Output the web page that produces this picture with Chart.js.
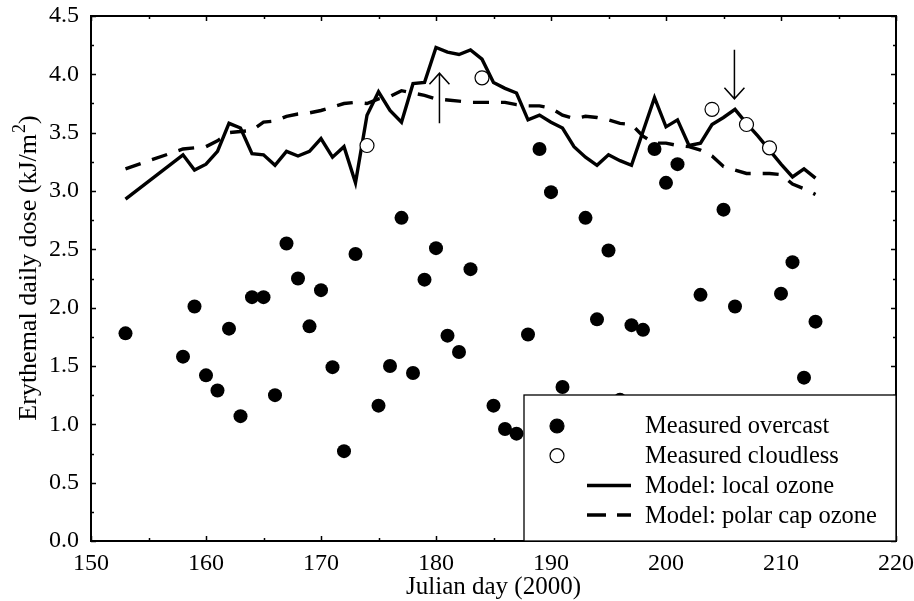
<!DOCTYPE html>
<html>
<head>
<meta charset="utf-8">
<script src="https://cdn.jsdelivr.net/npm/chart.js@4/dist/chart.umd.min.js"></script>
<style>
  html, body { margin: 0; padding: 0; background: #fff; }
  #wrap { width: 914px; height: 601px; position: relative; }
</style>
</head>
<body>
<div id="wrap"><canvas id="c" width="914" height="601"></canvas></div>
<script>
// ---- Data ----
const overcastDays = [153,158,159,160,161,162,163,164,165,166,167,168,169,170,171,172,173,175,176,177,178,179,180,181,182,183,185,186,187,188,189,190,191,193,194,195,196,197,198,199,200,201,203,205,206,210,211,212,213];
const overcastDose = [1.78,1.58,2.01,1.42,1.29,1.82,1.07,2.09,2.09,1.25,2.55,2.25,1.84,2.15,1.49,0.77,2.46,1.16,1.50,2.77,1.44,2.24,2.51,1.76,1.62,2.33,1.16,0.96,0.92,1.77,3.36,2.99,1.32,2.77,1.90,2.49,1.21,1.85,1.81,3.36,3.07,3.23,2.11,2.84,2.01,2.12,2.39,1.40,1.88];

const cloudlessDays = [174,184,204,207,209];
const cloudlessDose = [3.39,3.97,3.70,3.57,3.37];

const modelDays = [153,158,159,160,161,162,163,164,165,166,167,168,169,170,171,172,173,174,175,176,177,178,179,180,181,182,183,184,185,186,187,188,189,190,191,192,193,194,195,196,197,198,199,200,201,202,203,204,205,206,207,208,209,210,211,212,213];
const localOzone = [2.93,3.31,3.18,3.23,3.34,3.58,3.54,3.32,3.31,3.22,3.34,3.30,3.34,3.45,3.29,3.38,3.07,3.65,3.85,3.69,3.59,3.92,3.93,4.23,4.19,4.17,4.21,4.13,3.93,3.88,3.84,3.61,3.65,3.59,3.54,3.38,3.29,3.22,3.31,3.26,3.22,3.51,3.80,3.55,3.61,3.39,3.41,3.57,3.63,3.70,3.58,3.47,3.35,3.23,3.12,3.19,3.11];
const polarCapOzone = [3.19,3.36,3.37,3.38,3.43,3.50,3.51,3.52,3.59,3.60,3.64,3.66,3.67,3.69,3.72,3.75,3.76,3.75,3.79,3.81,3.86,3.84,3.82,3.79,3.78,3.77,3.76,3.76,3.76,3.76,3.74,3.73,3.73,3.71,3.65,3.62,3.64,3.63,3.61,3.58,3.57,3.47,3.41,3.41,3.39,3.38,3.35,3.30,3.21,3.18,3.15,3.15,3.15,3.14,3.06,3.02,2.97];

// arrows: [day, fromValue, toValue]
const arrowUp = [180.3, 3.58, 4.01];
const arrowDown = [205.95, 4.21, 3.79];

const xTickLabels = [150,160,170,180,190,200,210,220];
const yTickLabels = ['0.0','0.5','1.0','1.5','2.0','2.5','3.0','3.5','4.0','4.5'];

const seriesLabels = ['Measured overcast','Measured cloudless','Model: local ozone','Model: polar cap ozone'];
const xTitle = 'Julian day (2000)';
const yTitleParts = ['Erythemal daily dose (kJ/m', '2', ')'];

const zip = (xs, ys) => xs.map((x, i) => ({x: x, y: ys[i]}));
const FONT = '"Liberation Serif", "Times New Roman", serif';

// ---- Plugins ----
const framePlugin = {
  id: 'frame',
  afterDatasetsDraw(chart) {
    const {ctx, chartArea: a, scales: {x, y}} = chart;
    ctx.save();
    ctx.strokeStyle = '#000';
    ctx.lineWidth = 1.5;
    ctx.beginPath();
    for (let v = 150; v <= 220; v += 5) {
      const px = Math.round(x.getPixelForValue(v)) + 0.5;
      const len = (v % 10 === 0) ? 5 : 3;
      ctx.moveTo(px, a.bottom); ctx.lineTo(px, a.bottom - len);
      ctx.moveTo(px, a.top); ctx.lineTo(px, a.top + len);
    }
    for (let k = 0; k <= 18; k++) {
      const v = k * 0.25;
      const py = Math.round(y.getPixelForValue(v)) + 0.5;
      const len = (k % 2 === 0) ? 5 : 3;
      ctx.moveTo(a.left, py); ctx.lineTo(a.left + len, py);
      ctx.moveTo(a.right, py); ctx.lineTo(a.right - len, py);
    }
    ctx.stroke();
    ctx.lineWidth = 2;
    ctx.strokeRect(a.left, a.top, a.right - a.left, a.bottom - a.top);
    ctx.restore();
  }
};

const legendPlugin = {
  id: 'boxLegend',
  afterDatasetsDraw(chart) {
    const {ctx, chartArea: a} = chart;
    const ds = chart.data.datasets;
    const left = a.right - 372, top = a.bottom - 146;
    ctx.save();
    ctx.fillStyle = '#fff';
    ctx.fillRect(left, top, a.right - left, a.bottom - top);
    ctx.strokeStyle = '#000';
    ctx.lineWidth = 1.3;
    ctx.strokeRect(left, top, a.right - left, a.bottom - top);
    ctx.font = '24.5px ' + FONT;
    ctx.textBaseline = 'middle';
    ctx.textAlign = 'left';
    const rowY = i => top + 31 + i * 29.7;
    ds.forEach((d, i) => {
      const cy = rowY(i);
      if (i < 2) {
        ctx.beginPath();
        ctx.arc(left + 33, cy, 7, 0, Math.PI * 2);
        ctx.fillStyle = d.backgroundColor;
        ctx.fill();
        ctx.lineWidth = 1.2;
        ctx.strokeStyle = '#000';
        ctx.stroke();
      } else {
        ctx.beginPath();
        ctx.lineWidth = 3.5;
        ctx.strokeStyle = '#000';
        ctx.setLineDash(d.borderDash && d.borderDash.length ? [19, 11] : []);
        ctx.moveTo(left + 63, cy); ctx.lineTo(left + 107, cy);
        ctx.stroke();
        ctx.setLineDash([]);
      }
      ctx.fillStyle = '#000';
      ctx.fillText(d.label, left + 121, cy + 1);
    });
    // arrows
    const {x, y} = chart.scales;
    const drawArrow = (arr) => {
      const px = x.getPixelForValue(arr[0]);
      const y0 = y.getPixelForValue(arr[1]);
      const y1 = y.getPixelForValue(arr[2]);
      const dir = y1 < y0 ? 1 : -1;
      ctx.beginPath();
      ctx.lineWidth = 1.5;
      ctx.strokeStyle = '#000';
      ctx.moveTo(px, y0); ctx.lineTo(px, y1);
      ctx.moveTo(px - 10, y1 + dir * 11); ctx.lineTo(px, y1); ctx.lineTo(px + 10, y1 + dir * 11);
      ctx.stroke();
    };
    drawArrow(arrowUp);
    drawArrow(arrowDown);
    ctx.restore();
  }
};

// y-axis title with a real superscript
const yTitlePlugin = {
  id: 'yTitle',
  afterDraw(chart) {
    const {ctx, chartArea: a} = chart;
    const size = 26, sup = 18;
    const fMain = size + 'px ' + FONT, fSup = sup + 'px ' + FONT;
    ctx.save();
    ctx.font = fMain;
    const w0 = ctx.measureText(yTitleParts[0]).width;
    const w2 = ctx.measureText(yTitleParts[2]).width;
    ctx.font = fSup;
    const w1 = ctx.measureText(yTitleParts[1]).width;
    const total = w0 + w1 + w2;
    const cx = 28, cy = (a.top + a.bottom) / 2 - 10;
    ctx.translate(cx, cy);
    ctx.rotate(-Math.PI / 2);
    ctx.fillStyle = '#000';
    ctx.textAlign = 'left';
    ctx.textBaseline = 'alphabetic';
    const base = 8;
    let sx = -total / 2;
    ctx.font = fMain; ctx.fillText(yTitleParts[0], sx, base); sx += w0;
    ctx.font = fSup; ctx.fillText(yTitleParts[1], sx + 1, base - 11); sx += w1 + 1;
    ctx.font = fMain; ctx.fillText(yTitleParts[2], sx, base);
    ctx.restore();
  }
};

// ---- Chart ----
new Chart(document.getElementById('c'), {
  type: 'scatter',
  data: {
    datasets: [
      { label: seriesLabels[0], data: zip(overcastDays, overcastDose),
        backgroundColor: '#000', borderColor: '#000', pointRadius: 7, pointBorderWidth: 0, pointHoverRadius: 7 },
      { label: seriesLabels[1], data: zip(cloudlessDays, cloudlessDose),
        backgroundColor: '#fff', borderColor: '#000', pointRadius: 7, pointBorderWidth: 1.2, pointHoverRadius: 7 },
      { label: seriesLabels[2], data: zip(modelDays, localOzone), showLine: true,
        borderColor: '#000', backgroundColor: '#000', borderWidth: 3.4, pointRadius: 0,
        borderJoinStyle: 'miter', tension: 0 },
      { label: seriesLabels[3], data: zip(modelDays, polarCapOzone), showLine: true,
        borderColor: '#000', backgroundColor: '#000', borderWidth: 3.4, pointRadius: 0,
        borderDash: [16, 12], borderCapStyle: 'butt', tension: 0 }
    ]
  },
  options: {
    responsive: false,
    animation: false,
    devicePixelRatio: 1,
    layout: { padding: { left: 0, right: 18, top: 16, bottom: 0 } },
    plugins: { legend: { display: false }, tooltip: { enabled: false } },
    scales: {
      x: {
        type: 'linear', min: 150, max: 220,
        afterFit: s => { s.height = 60; s.paddingLeft = 0; s.paddingRight = 0; },
        afterBuildTicks: s => { s.ticks = xTickLabels.map(v => ({value: v})); },
        grid: { display: false, drawTicks: false },
        border: { display: false },
        ticks: { color: '#000', font: { family: FONT, size: 24 }, padding: 8, maxRotation: 0,
                 callback: v => String(v) },
        title: { display: true, text: xTitle, color: '#000',
                 font: { family: FONT, size: 25, lineHeight: 1.05 }, padding: { top: 0, bottom: 0 } }
      },
      y: {
        type: 'linear', min: 0, max: 4.5,
        afterFit: s => { s.width = 91; s.paddingTop = 0; s.paddingBottom = 0; },
        afterBuildTicks: s => { s.ticks = yTickLabels.map(t => ({value: parseFloat(t)})); },
        grid: { display: false, drawTicks: false },
        border: { display: false },
        ticks: { color: '#000', font: { family: FONT, size: 24 }, padding: 12,
                 callback: (v, i) => yTickLabels[i] },
        title: { display: false }
      }
    }
  },
  plugins: [framePlugin, legendPlugin, yTitlePlugin]
});
</script>
</body>
</html>
